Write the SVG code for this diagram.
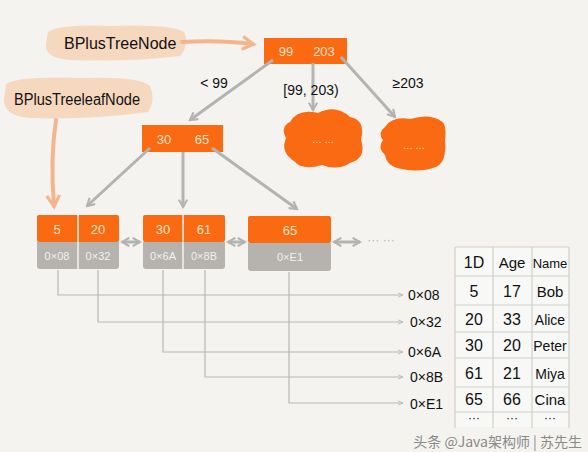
<svg xmlns="http://www.w3.org/2000/svg" width="588" height="452" viewBox="0 0 588 452">
<defs>
<style>
.bg{fill:#f4f3f0}
.or{fill:#fa6a12}
.gr{fill:#b6b3ae}
.ot{font-family:"Liberation Sans",sans-serif;font-size:13px;fill:#ffe3c8;text-anchor:middle}
.gt{font-family:"Liberation Sans",sans-serif;font-size:11px;fill:#f2f1ee;text-anchor:middle}
.lb{font-family:"Liberation Sans",sans-serif;font-size:14px;fill:#111;text-anchor:middle}
.tt{font-family:"Liberation Sans",sans-serif;font-size:16px;fill:#111;text-anchor:middle}
.hl{font-family:"Liberation Sans",sans-serif;font-size:15px;fill:#111}
.con{stroke:#b3b3b1;stroke-width:3;fill:none}
.thin{stroke:#b8b8b6;stroke-width:1.2;fill:none}
.peach{stroke:#f3b58c;stroke-width:4;fill:none;stroke-linecap:round}
.tl{stroke:#cfcfcc;stroke-width:1.2}
</style>
<marker id="ah" viewBox="0 0 10 10" refX="8" refY="5" markerWidth="3.5" markerHeight="3.5" orient="auto-start-reverse"><path d="M1,1 L8,5 L1,9" fill="none" stroke="#b3b3b1" stroke-width="2"/></marker>
<marker id="ahs" viewBox="0 0 10 10" refX="9" refY="5" markerWidth="6" markerHeight="6" orient="auto"><path d="M2,2 L9,5 L2,8" fill="none" stroke="#b8b8b6" stroke-width="1.2"/></marker>
<marker id="ap" viewBox="0 0 10 10" refX="7" refY="5" markerWidth="4" markerHeight="4" orient="auto"><path d="M1,1 L8,5 L1,9" fill="none" stroke="#f3b58c" stroke-width="2"/></marker>
</defs>
<rect class="bg" x="0" y="0" width="588" height="452"/>

<g id="label-bplustreenode">
<path d="M48,32 Q60,24 110,26 Q170,24 184,32 Q190,44 180,56 Q130,62 70,60 Q44,58 46,44 Z" fill="#f6d2b6" opacity="0.85"/>
<text class="hl" x="64" y="49" style="font-size:16px">BPlusTreeNode</text>
</g>
<g id="label-bplustreeleafnode">
<path d="M6,84 Q20,76 80,78 Q140,76 150,86 Q156,100 148,112 Q90,120 30,118 Q4,116 4,100 Z" fill="#f6d2b6" opacity="0.85"/>
<text class="hl" x="14" y="105" style="font-size:16px" textLength="126" lengthAdjust="spacingAndGlyphs">BPlusTreeleafNode</text>
</g>

<g id="root">
<rect class="or" x="264" y="38" width="83" height="26"/>
<text class="ot" x="286" y="56">99</text>
<text class="ot" x="324" y="56">203</text>
</g>
<g id="internal">
<rect class="or" x="142" y="125" width="81" height="27"/>
<text class="ot" x="164" y="144">30</text>
<text class="ot" x="202" y="144">65</text>
</g>
<g id="cloud1">
<path d="M290,122 Q298,108 318,113 Q336,104 350,117 Q366,120 361,140 Q367,158 350,163 Q338,171 322,165 Q302,171 294,161 Q280,152 286,138 Q280,127 290,122 Z" fill="#fa6a12"/>
<text class="gt" x="323" y="143" style="fill:#ffd9a0">... ...</text>
</g>
<g id="cloud2">
<path d="M385,127 Q392,116 410,119 Q430,113 441,121 Q447,124 445,140 Q447,162 436,167 Q420,173 402,169 Q387,167 385,155 Q377,148 383,140 Q377,133 385,127 Z" fill="#fa6a12"/>
<text class="gt" x="414" y="149" style="fill:#ffd9a0">... ...</text>
</g>

<g id="leaf1">
<rect class="or" x="37" y="215" width="82" height="27" rx="2"/>
<path class="gr" d="M37,242 H119 V266 Q119,269 116,269 H40 Q37,269 37,266 Z"/>
<line x1="78" y1="215" x2="78" y2="269" stroke="#f4f3f0" stroke-width="1.5"/>
<text class="ot" x="57" y="234">5</text>
<text class="ot" x="98" y="234">20</text>
<text class="gt" x="57" y="260">0×08</text>
<text class="gt" x="98" y="260">0×32</text>
</g>
<g id="leaf2">
<rect class="or" x="143" y="215" width="82" height="27" rx="2"/>
<path class="gr" d="M143,242 H225 V266 Q225,269 222,269 H146 Q143,269 143,266 Z"/>
<line x1="183" y1="215" x2="183" y2="269" stroke="#f4f3f0" stroke-width="1.5"/>
<text class="ot" x="163" y="234">30</text>
<text class="ot" x="204" y="234">61</text>
<text class="gt" x="163" y="260">0×6A</text>
<text class="gt" x="204" y="260">0×8B</text>
</g>
<g id="leaf3">
<rect class="or" x="248" y="216" width="83" height="27" rx="2"/>
<path class="gr" d="M248,243 H331 V268 Q331,271 328,271 H251 Q248,271 248,268 Z"/>
<text class="ot" x="290" y="235">65</text>
<text class="gt" x="290" y="261">0×E1</text>
</g>
<text class="gt" x="381" y="244" style="fill:#b3b3b1;font-size:12px">··· ···</text>

<g id="connectors">
<path class="peach" d="M182,42 Q220,40 252,44" marker-end="url(#ap)"/>
<path class="peach" d="M56,120 Q50,160 54,205" marker-end="url(#ap)"/>
<line class="con" x1="273" y1="60" x2="190" y2="120" marker-end="url(#ah)"/>
<line class="con" x1="313" y1="63" x2="313" y2="110" marker-end="url(#ah)"/>
<line class="con" x1="341" y1="57" x2="395" y2="117" marker-end="url(#ah)"/>
<line class="con" x1="150" y1="148" x2="87" y2="206" marker-end="url(#ah)"/>
<line class="con" x1="183" y1="152" x2="183" y2="207" marker-end="url(#ah)"/>
<line class="con" x1="212" y1="148" x2="297" y2="209" marker-end="url(#ah)"/>
<line class="con" x1="122" y1="242" x2="140" y2="242" marker-start="url(#ah)" marker-end="url(#ah)"/>
<line class="con" x1="228" y1="242" x2="245" y2="242" marker-start="url(#ah)" marker-end="url(#ah)"/>
<line class="con" x1="334" y1="242" x2="360" y2="242" marker-start="url(#ah)" marker-end="url(#ah)"/>
<polyline class="thin" points="58,270 58,295 403,295" marker-end="url(#ahs)"/>
<polyline class="thin" points="98,270 98,322 403,322" marker-end="url(#ahs)"/>
<polyline class="thin" points="163,270 163,352 403,352" marker-end="url(#ahs)"/>
<polyline class="thin" points="205,270 205,377 403,377" marker-end="url(#ahs)"/>
<polyline class="thin" points="289,272 289,403 403,403" marker-end="url(#ahs)"/>
</g>

<text class="lb" x="214" y="88">&lt; 99</text>
<text class="lb" x="311" y="95">[99, 203)</text>
<text class="lb" x="408" y="88">≥203</text>

<g id="addr-labels">
<text class="hl" x="408" y="300" style="font-size:14px">0×08</text>
<text class="hl" x="410" y="327" style="font-size:14px">0×32</text>
<text class="hl" x="408" y="357" style="font-size:14px">0×6A</text>
<text class="hl" x="410" y="382" style="font-size:14px">0×8B</text>
<text class="hl" x="410" y="409" style="font-size:14px">0×E1</text>
</g>

<g id="table">
<rect x="455" y="247" width="114" height="180" fill="#f8f8f6"/>
<g class="tl">
<line x1="455" y1="247" x2="569" y2="247"/>
<line x1="455" y1="276" x2="569" y2="276"/>
<line x1="455" y1="305" x2="569" y2="305"/>
<line x1="455" y1="332" x2="569" y2="332"/>
<line x1="455" y1="358" x2="569" y2="358"/>
<line x1="455" y1="387" x2="569" y2="387"/>
<line x1="455" y1="412" x2="569" y2="412"/>
<line x1="455" y1="247" x2="455" y2="428"/>
<line x1="493" y1="247" x2="493" y2="428"/>
<line x1="532" y1="247" x2="532" y2="428"/>
<line x1="569" y1="247" x2="569" y2="428"/>
</g>
<text class="tt" x="474" y="268">1D</text>
<text class="tt" x="512" y="268" style="font-size:15px">Age</text>
<text class="tt" x="550" y="268" style="font-size:13px">Name</text>
<text class="tt" x="474" y="297">5</text>
<text class="tt" x="512" y="297">17</text>
<text class="tt" x="550" y="297" style="font-size:15px">Bob</text>
<text class="tt" x="474" y="325">20</text>
<text class="tt" x="512" y="325">33</text>
<text class="tt" x="550" y="325" style="font-size:14px">Alice</text>
<text class="tt" x="474" y="351">30</text>
<text class="tt" x="512" y="351">20</text>
<text class="tt" x="550" y="351" style="font-size:14px">Peter</text>
<text class="tt" x="474" y="379">61</text>
<text class="tt" x="512" y="379">21</text>
<text class="tt" x="550" y="379" style="font-size:14px">Miya</text>
<text class="tt" x="474" y="405">65</text>
<text class="tt" x="512" y="405">66</text>
<text class="tt" x="550" y="405" style="font-size:15px">Cina</text>
<text class="tt" x="474" y="422" style="font-size:12px">···</text>
<text class="tt" x="512" y="422" style="font-size:12px">···</text>
<text class="tt" x="550" y="422" style="font-size:12px">···</text>
</g>

<text x="582" y="447" text-anchor="end" style="font-family:'Noto Sans CJK SC','Liberation Sans',sans-serif;font-size:14px;fill:#8a8a88">头条 @Java架构师 | 苏先生</text>
</svg>
